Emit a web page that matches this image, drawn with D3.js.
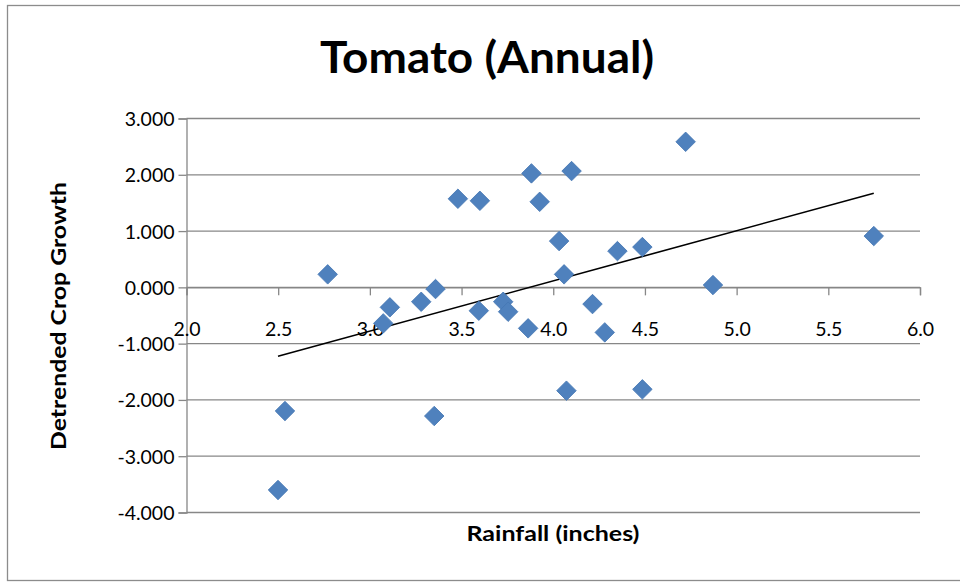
<!DOCTYPE html>
<html>
<head>
<meta charset="utf-8">
<script src="https://cdn.jsdelivr.net/npm/d3@7"></script>
<style>
  html, body { margin: 0; padding: 0; background: #fff; }
  svg { display: block; }
</style>
</head>
<body>
<svg id="chart" width="960" height="582"></svg>
<script>
// ---- data ----
const rainfall = [2.499, 2.537, 2.770, 3.109, 3.073, 3.280, 3.358, 3.480, 3.600, 3.594,
                  3.727, 3.754, 3.881, 3.926, 4.032, 4.059, 3.863, 4.100, 4.214, 4.350,
                  4.486, 4.722, 4.871, 5.748, 4.281, 4.072, 4.486, 3.351];
const growth   = [-3.600, -2.197, 0.231, -0.355, -0.640, -0.256, -0.030, 1.574, 1.538, -0.415,
                  -0.256, -0.433, 2.025, 1.520, 0.822, 0.231, -0.728, 2.066, -0.297, 0.644,
                   0.716, 2.586, 0.041, 0.911, -0.800, -1.836, -1.812, -2.286];
const xTicks = [2.0, 2.5, 3.0, 3.5, 4.0, 4.5, 5.0, 5.5, 6.0];
const yTicks = [-4, -3, -2, -1, 0, 1, 2, 3];
const titleText = "Tomato (Annual)";
const xTitle = "Rainfall (inches)";
const yTitle = "Detrended Crop Growth";

const points = rainfall.map((x, i) => ({ x, y: growth[i] }));

// least-squares trendline
const mx = d3.mean(rainfall), my = d3.mean(growth);
const slope = d3.sum(points, p => (p.x - mx) * (p.y - my)) / d3.sum(points, p => (p.x - mx) ** 2);
const intercept = my - slope * mx;
const xExt = d3.extent(rainfall);
const trend = xExt.map(x => ({ x, y: intercept + slope * x }));

// ---- layout ----
const svg = d3.select("#chart");
const L = 186.5, R = 920, T = 118.5, B = 512.5;
const x = d3.scaleLinear().domain([2, 6]).range([L, R]);
const y = d3.scaleLinear().domain([-4, 3]).range([B, T]);
const gridColor = "#878787";
const font = "Lato, 'Open Sans', sans-serif";
const fmtY = v => d3.format(".3f")(v).replace("\u2212", "-");
const fmtX = v => d3.format(".1f")(v).replace("\u2212", "-");

svg.append("rect").attr("width", 960).attr("height", 582).attr("fill", "#fff");
// chart area border
svg.append("rect").attr("x", 7.5).attr("y", 5.5).attr("width", 960).attr("height", 575)
  .attr("fill", "none").attr("stroke", "#8c8c8c").attr("stroke-width", 1.3);

// gridlines
svg.append("g").selectAll("line").data(yTicks).join("line")
  .attr("x1", L).attr("x2", R)
  .attr("y1", d => y(d)).attr("y2", d => y(d))
  .attr("stroke", gridColor).attr("stroke-width", 1.3);

// y axis
const yAxis = svg.append("g").attr("transform", `translate(${L},0)`)
  .call(d3.axisLeft(y).tickValues(yTicks).tickFormat(fmtY).tickSize(8).tickPadding(10));
yAxis.select(".domain").attr("stroke", gridColor).attr("stroke-width", 1.3);
yAxis.selectAll(".tick line").attr("stroke", gridColor).attr("stroke-width", 1.3);
yAxis.selectAll(".tick text").attr("font-family", font).attr("font-size", 19.5).attr("fill", "#000")
  .attr("x", -12).attr("dy", "0.36em");

// x axis at y = 0
const xAxis = svg.append("g").attr("transform", `translate(0,${y(0)})`)
  .call(d3.axisBottom(x).tickValues(xTicks).tickFormat(fmtX).tickSize(8));
xAxis.select(".domain").attr("stroke", gridColor).attr("stroke-width", 1.3);
xAxis.selectAll(".tick line").attr("stroke", gridColor).attr("stroke-width", 1.3);
xAxis.selectAll(".tick text").attr("font-family", font).attr("font-size", 19.5).attr("fill", "#000")
  .attr("y", 49).attr("dy", 0);

// trendline
svg.append("path").datum(trend)
  .attr("d", d3.line().x(d => x(d.x)).y(d => y(d.y)))
  .attr("fill", "none").attr("stroke", "#000").attr("stroke-width", 1.6);

// markers (diamonds)
const diamond = d3.symbol().type(d3.symbolSquare).size(190);
svg.append("g").selectAll("path").data(points).join("path")
  .attr("d", diamond)
  .attr("transform", d => `translate(${x(d.x)},${y(d.y)}) rotate(45)`)
  .attr("fill", "#4F81BD").attr("stroke", "#4677B4").attr("stroke-width", 0.8);

// titles
svg.append("text").attr("x", 487).attr("y", 73).attr("text-anchor", "middle")
  .attr("font-family", font).attr("font-weight", "bold").attr("font-size", 44)
  .attr("textLength", 334).attr("lengthAdjust", "spacingAndGlyphs")
  .text(titleText);
svg.append("text").attr("x", 553).attr("y", 541).attr("text-anchor", "middle")
  .attr("font-family", font).attr("font-weight", "bold").attr("font-size", 20)
  .attr("textLength", 173).attr("lengthAdjust", "spacingAndGlyphs")
  .text(xTitle);
svg.append("text").attr("transform", "translate(66,316) rotate(-90)").attr("text-anchor", "middle")
  .attr("font-family", font).attr("font-weight", "bold").attr("font-size", 20)
  .attr("textLength", 268).attr("lengthAdjust", "spacingAndGlyphs")
  .text(yTitle);
</script>
</body>
</html>
